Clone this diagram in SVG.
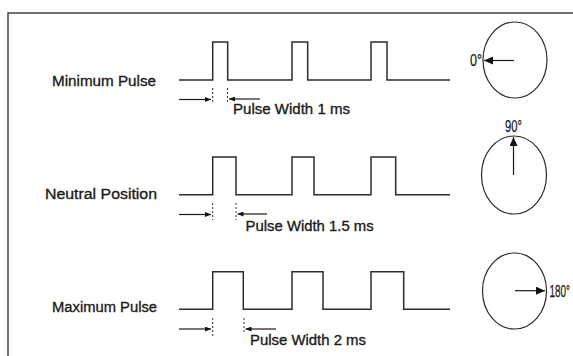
<svg xmlns="http://www.w3.org/2000/svg" width="573" height="356" viewBox="0 0 573 356">
<defs>
<style>
.wave{fill:none;stroke:#2b2b2b;stroke-width:1.5}
.dial{fill:none;stroke:#2b2b2b;stroke-width:1.2}
.arr{fill:none;stroke:#1a1a1a;stroke-width:1.2}
.dash{fill:none;stroke:#333;stroke-width:1;stroke-dasharray:2 2}
.lbl{font-family:"Liberation Sans",Arial,sans-serif;font-size:15.5px;fill:#1a1a1a;stroke:#1a1a1a;stroke-width:0.35}
.deg{font-family:"Liberation Sans",Arial,sans-serif;font-size:16px;fill:#1a1a1a;stroke:#1a1a1a;stroke-width:0.25}
</style>
<marker id="ah" markerUnits="userSpaceOnUse" markerWidth="9" markerHeight="8" refX="9" refY="4" orient="auto">
<path d="M0,0 L9,4 L0,8 z" fill="#111"/>
</marker>
<marker id="sh" markerUnits="userSpaceOnUse" markerWidth="6" markerHeight="5" refX="6" refY="2.5" orient="auto">
<path d="M0,0 L6,2.5 L0,5 z" fill="#111"/>
</marker>
</defs>
<rect width="573" height="356" fill="#fff"/>
<path d="M8,356 V13 H573" fill="none" stroke="#444" stroke-width="1.5"/>

<g id="row-min">
<text class="lbl" x="52" y="85.5" textLength="104" lengthAdjust="spacingAndGlyphs">Minimum Pulse</text>
<path class="wave" d="M179,80 H212.7 V42 H227.7 V80 H292 V42 H307.7 V80 H371 V42 H387 V80 H450"/>
<text class="lbl" x="233" y="113.5" textLength="117" lengthAdjust="spacingAndGlyphs">Pulse Width 1 ms</text>
</g>
<g id="dial-min">
<ellipse class="dial" cx="515" cy="60" rx="32" ry="38"/>
<text class="deg" x="470" y="66" textLength="12" lengthAdjust="spacingAndGlyphs">0°</text>
</g>

<g id="row-neutral">
<text class="lbl" x="45" y="198.5" textLength="112" lengthAdjust="spacingAndGlyphs">Neutral Position</text>
<path class="wave" d="M179,194.7 H212.7 V157 H236 V194.7 H292 V157 H314 V194.7 H371 V157 H395.7 V194.7 H450"/>
<text class="lbl" x="245.6" y="231" textLength="128" lengthAdjust="spacingAndGlyphs">Pulse Width 1.5 ms</text>
</g>
<g id="dial-neutral">
<ellipse class="dial" cx="514" cy="175" rx="32.5" ry="39"/>
<text class="deg" x="505" y="131.5" textLength="17" lengthAdjust="spacingAndGlyphs">90°</text>
</g>

<g id="row-max">
<text class="lbl" x="52" y="312" textLength="105" lengthAdjust="spacingAndGlyphs">Maximum Pulse</text>
<path class="wave" d="M179,309.3 H212.7 V271.7 H243.3 V309.3 H292 V271.7 H323 V309.3 H371 V271.7 H403.7 V309.3 H450"/>
<text class="lbl" x="250" y="344.5" textLength="116" lengthAdjust="spacingAndGlyphs">Pulse Width 2 ms</text>
</g>
<g id="dial-max">
<ellipse class="dial" cx="514.5" cy="291" rx="32" ry="38"/>
<text class="deg" transform="translate(549.5,296.5) scale(0.62,1)" x="0" y="0">180°</text>
</g>

<g id="connectors">
<line class="dash" x1="212.7" y1="88" x2="212.7" y2="102"/>
<line class="dash" x1="227.5" y1="88" x2="227.5" y2="102"/>
<line class="arr" x1="179" y1="99.5" x2="211" y2="99.5" marker-end="url(#sh)"/>
<line class="arr" x1="260" y1="99" x2="229" y2="99" marker-end="url(#sh)"/>

<line class="dash" x1="212.7" y1="203" x2="212.7" y2="220"/>
<line class="dash" x1="236" y1="203" x2="236" y2="220"/>
<line class="arr" x1="179" y1="214.5" x2="211" y2="214.5" marker-end="url(#sh)"/>
<line class="arr" x1="267" y1="214" x2="237.5" y2="214" marker-end="url(#sh)"/>

<line class="dash" x1="212.7" y1="318" x2="212.7" y2="338"/>
<line class="dash" x1="244" y1="318" x2="244" y2="332"/>
<line class="arr" x1="179" y1="329" x2="211" y2="329" marker-end="url(#sh)"/>
<line class="arr" x1="276" y1="329" x2="245.5" y2="329" marker-end="url(#sh)"/>

<line class="arr" x1="514" y1="60.5" x2="484" y2="60.5" marker-end="url(#ah)"/>
<line class="arr" x1="513.5" y1="175" x2="513.5" y2="137" marker-end="url(#ah)"/>
<line class="arr" x1="515" y1="290.7" x2="545" y2="290.7" marker-end="url(#ah)"/>
</g>
</svg>
